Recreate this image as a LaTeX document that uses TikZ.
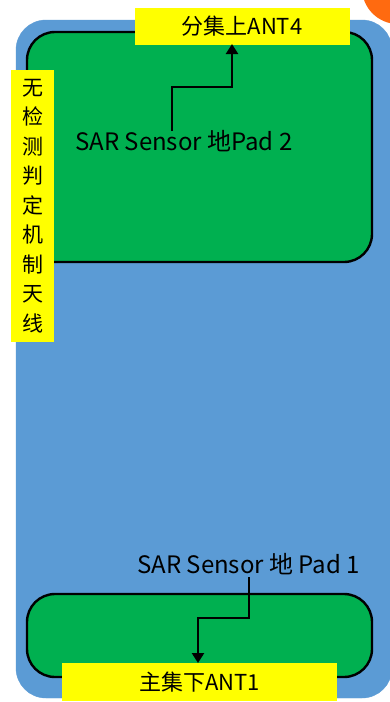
\documentclass[tikz,border=0pt]{standalone}
\usepackage{fontspec}
\setmainfont{Noto Sans CJK SC}
\usetikzlibrary{arrows.meta}
\definecolor{boardblue}{HTML}{5B9BD5}
\definecolor{padgreen}{HTML}{00B050}
\definecolor{labyellow}{HTML}{FFFF00}
\definecolor{dotorange}{HTML}{FF6A10}
\tikzset{
  board/.style={fill=boardblue, draw=boardblue, rounded corners=30pt},
  pad/.style={fill=padgreen, draw=black, line width=2.4pt, rounded corners=28pt},
  ylabel/.style={fill=labyellow, inner sep=0pt, font=\fontsize{22}{25}\selectfont},
  conn/.style={draw=black, line width=2.4pt, -{Triangle[length=10pt,width=12pt]}},
  sartext/.style={font=\fontsize{24}{27}\selectfont, inner sep=0pt}
}
\begin{document}
\begin{tikzpicture}[x=1pt,y=-1pt]
\useasboundingbox (0,0) rectangle (389,702);
\fill[white] (0,0) rectangle (389,702);
\fill[dotorange] (398,-12) circle (36);
\path[board] (16,20) rectangle (392,698);
\path[pad] (27,32) rectangle (372,262);
\path[pad] (27,594) rectangle (372,677);
% labels
\node[ylabel, minimum width=215pt, minimum height=37pt] (ant4) at (242,26) {分集上ANT4};
\node[ylabel, minimum width=275pt, minimum height=38pt] (ant1) at (199.5,682) {主集下ANT1};
\node[ylabel, minimum width=43pt, minimum height=272pt, align=center, font=\fontsize{21}{29.5}\selectfont] (side) at (32.5,206) {无\\检\\测\\判\\定\\机\\制\\天\\线};
\node[sartext, anchor=west] (pad2) at (75,141) {SAR Sensor 地Pad 2};
\node[sartext, anchor=west] (pad1) at (137,564) {SAR Sensor 地 Pad 1};
\coordinate (p2s) at (172,131);
\coordinate (p1s) at (249,577);
\draw[conn] (p2s) -- (172,87) -- (232,87) -- (232,44);
\draw[conn] (p1s) -- (249,618) -- (198,618) -- (198,663);
\end{tikzpicture}
\end{document}
